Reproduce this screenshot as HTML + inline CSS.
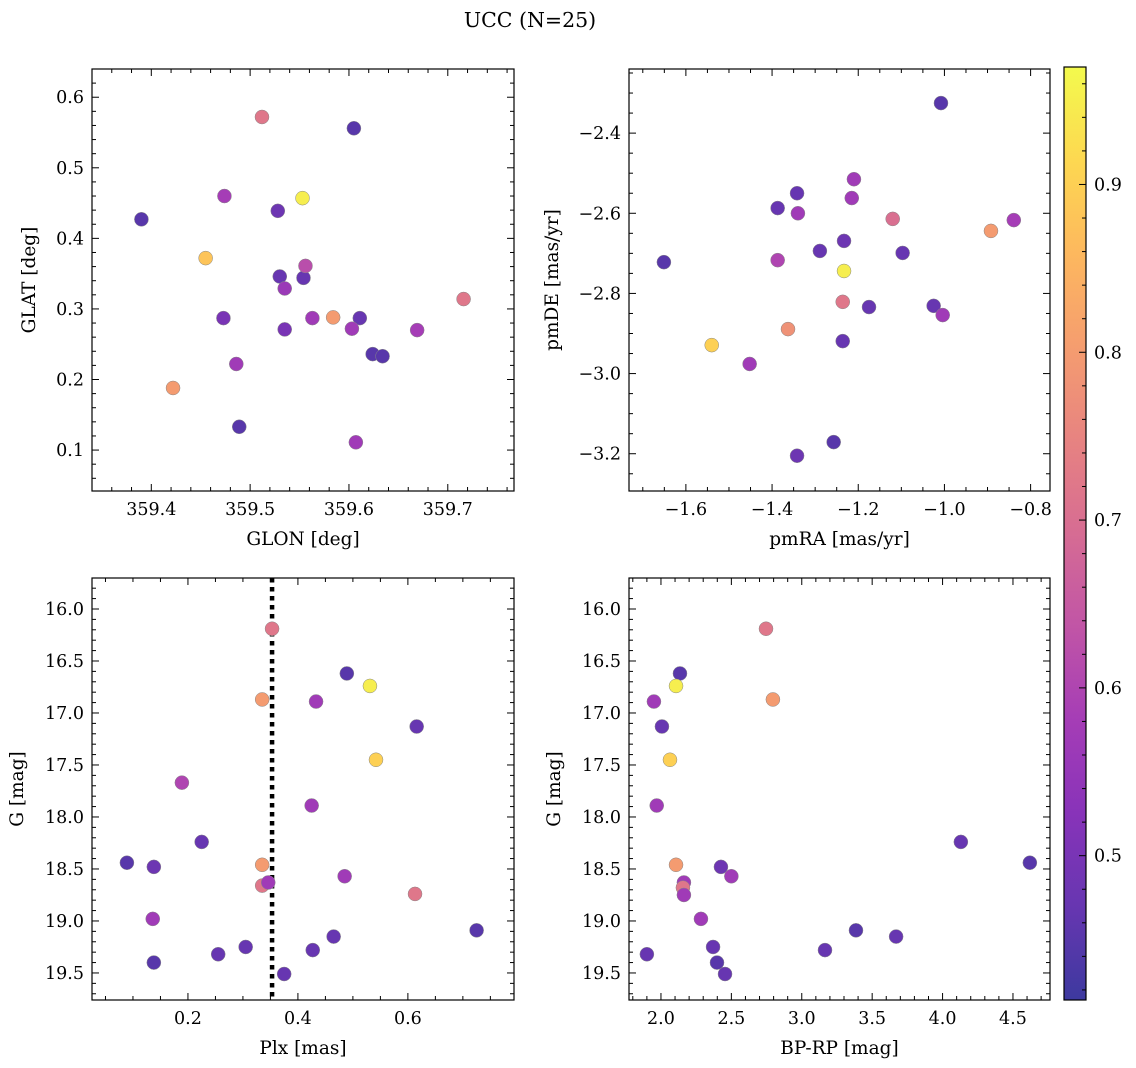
<!DOCTYPE html>
<html><head><meta charset="utf-8">
<style>
html,body{margin:0;padding:0;background:#fff;}
svg{display:block;font-family:"DejaVu Serif","Liberation Serif",serif;}
</style></head>
<body>
<svg id="fig" width="1136" height="1068" xmlns="http://www.w3.org/2000/svg">
<text x="530" y="27" font-size="20.5" text-anchor="middle">UCC (N=25)</text>
</svg>
<script>
// ---- data (per panel) ----
const glon = [359.512,359.605,359.390,359.474,359.528,359.553,359.455,359.530,359.554,359.556,359.535,359.473,359.535,359.563,359.584,359.611,359.603,359.669,359.716,359.624,359.634,359.486,359.422,359.489,359.607];
const glat = [0.572,0.556,0.427,0.460,0.439,0.457,0.372,0.346,0.344,0.361,0.329,0.287,0.271,0.287,0.288,0.287,0.272,0.270,0.314,0.236,0.233,0.222,0.188,0.133,0.111];
const probA = [0.72,0.45,0.45,0.58,0.48,0.95,0.88,0.47,0.47,0.62,0.56,0.50,0.50,0.57,0.80,0.47,0.57,0.58,0.72,0.45,0.45,0.57,0.80,0.45,0.57];

const pmra = [-1.008,-1.210,-1.342,-1.387,-1.340,-1.215,-1.120,-0.839,-0.892,-1.233,-1.289,-1.097,-1.651,-1.387,-1.233,-1.236,-1.175,-1.025,-1.004,-1.363,-1.236,-1.540,-1.452,-1.257,-1.342];
const pmde = [-2.325,-2.515,-2.550,-2.587,-2.600,-2.562,-2.614,-2.617,-2.644,-2.669,-2.694,-2.699,-2.722,-2.717,-2.744,-2.821,-2.834,-2.831,-2.854,-2.889,-2.919,-2.929,-2.976,-3.171,-3.205];
const probB = [0.45,0.57,0.47,0.47,0.57,0.57,0.70,0.58,0.80,0.48,0.47,0.47,0.45,0.60,0.95,0.72,0.47,0.47,0.57,0.78,0.47,0.90,0.57,0.45,0.48];

const plx = [0.353,0.489,0.531,0.335,0.433,0.616,0.542,0.189,0.425,0.225,0.089,0.138,0.335,0.485,0.335,0.346,0.613,0.136,0.725,0.465,0.305,0.427,0.255,0.138,0.375];
const gmagC = [16.19,16.62,16.74,16.87,16.89,17.13,17.45,17.67,17.89,18.24,18.44,18.48,18.46,18.57,18.66,18.63,18.74,18.98,19.09,19.15,19.25,19.28,19.32,19.40,19.51];
const probC = [0.72,0.45,0.95,0.80,0.57,0.47,0.90,0.60,0.57,0.47,0.45,0.48,0.80,0.57,0.72,0.57,0.72,0.57,0.45,0.47,0.47,0.47,0.47,0.45,0.47];
const plxLine = 0.353;

const bprp = [2.746,2.135,2.107,1.950,2.795,2.007,2.064,1.970,4.130,4.620,2.107,2.426,2.500,2.163,2.156,2.163,2.284,3.385,3.670,2.370,3.165,1.900,2.398,2.455];
const gmagD = [16.19,16.62,16.74,16.89,16.87,17.13,17.45,17.89,18.24,18.44,18.46,18.48,18.57,18.63,18.68,18.75,18.98,19.09,19.15,19.25,19.28,19.32,19.40,19.51];
const probD = [0.72,0.45,0.95,0.57,0.80,0.47,0.90,0.57,0.47,0.45,0.80,0.48,0.57,0.57,0.72,0.57,0.57,0.45,0.47,0.47,0.47,0.47,0.45,0.47];

const cbTicks = [0.5,0.6,0.7,0.8,0.9];
const cmin = 0.414, cmax = 0.970;

// ---- helpers ----
const svg = document.getElementById('fig');
const NS = 'http://www.w3.org/2000/svg';
const TF = 17.5, LF = 18.5;
function mk(tag, attrs, parent){ const e=document.createElementNS(NS,tag); for(const k in attrs) e.setAttribute(k,attrs[k]); (parent||svg).appendChild(e); return e; }
const plasmaStops2=[[0,[13,8,135]],[0.1,[65,4,157]],[0.2,[106,0,168]],[0.3,[143,13,164]],[0.4,[177,42,144]],[0.5,[204,71,120]],[0.6,[225,100,98]],[0.7,[242,132,75]],[0.8,[252,166,54]],[0.9,[252,206,37]],[1,[240,249,33]]];
const ALPHA=0.8;
function plasma(t){ t=Math.max(0,Math.min(1,t)); const s=plasmaStops2; let rgb=s[s.length-1][1];
  for(let i=1;i<s.length;i++){ if(t<=s[i][0]){ const a=s[i-1],b=s[i],f=(t-a[0])/(b[0]-a[0]); rgb=a[1].map((v,j)=>v+(b[1][j]-v)*f); break; } }
  return 'rgb('+rgb.map(v=>Math.round(v*ALPHA+255*(1-ALPHA))).join(',')+')'; }
function cmap(v){ return plasma((v-cmin)/(cmax-cmin)); }
function fmt(v,d){ const s=v.toFixed(d); return v<0 ? '\u2212'+s.slice(1) : s; }

function panel(name, L,T,R,B, xr, yr, xMaj, xMin, yMaj, yMin, xd, yd, xlab, ylab, ylabX, yinv){
  const g = mk('g',{});  
  const sx = v => L + (v-xr[0])/(xr[1]-xr[0])*(R-L);
  const sy = yinv ? (v => T + (v-yr[0])/(yr[1]-yr[0])*(B-T)) : (v => B - (v-yr[0])/(yr[1]-yr[0])*(B-T));
  mk('rect',{x:L,y:T,width:R-L,height:B-T,fill:'none',stroke:'#000','stroke-width':1.2,},g);
  const eps=1e-9;
  const xs=Math.ceil(xr[0]/xMin-eps);
  for(let k=xs;k*xMin<=xr[1]+eps;k++){
    const v=k*xMin, px=sx(v), major=Math.abs(v/xMaj-Math.round(v/xMaj))<1e-6, len=major?7:4;
    mk('line',{x1:px,y1:B,x2:px,y2:B-len,stroke:'#000','stroke-width':1},g);
    mk('line',{x1:px,y1:T,x2:px,y2:T+len,stroke:'#000','stroke-width':1},g);
    if(major){ const t=mk('text',{x:px,y:B+24,'font-size':TF,'text-anchor':'middle'},g); t.textContent=fmt(v,xd); }
  }
  const ys=Math.ceil(Math.min(yr[0],yr[1])/yMin-eps), ye=Math.max(yr[0],yr[1]);
  for(let k=ys;k*yMin<=ye+eps;k++){
    const v=k*yMin, py=sy(v), major=Math.abs(v/yMaj-Math.round(v/yMaj))<1e-6, len=major?7:4;
    mk('line',{x1:L,y1:py,x2:L+len,y2:py,stroke:'#000','stroke-width':1},g);
    mk('line',{x1:R,y1:py,x2:R-len,y2:py,stroke:'#000','stroke-width':1},g);
    if(major){ const t=mk('text',{x:L-8,y:py+6,'font-size':TF,'text-anchor':'end'},g); t.textContent=fmt(v,yd); }
  }
  const xl=mk('text',{x:(L+R)/2,y:B+54,'font-size':LF,'text-anchor':'middle'},g); xl.textContent=xlab;
   
  const yl=mk('text',{x:ylabX,y:(T+B)/2,'font-size':LF,'text-anchor':'middle',transform:'rotate(-90 '+ylabX+' '+(T+B)/2+')'},g); yl.textContent=ylab;
   
  return {g,sx,sy};
}
function scatter(p, xs, ys, cs, name){
  for(let i=0;i<xs.length;i++){
    const c=mk('circle',{cx:p.sx(xs[i]),cy:p.sy(ys[i]),r:7,fill:cmap(cs[i]),stroke:'#888','stroke-width':0.5},p.g);
    
    
  }
}

const p1 = panel('glon-glat-panel',92,69,514,491,[359.340,359.767],[0.042,0.640],0.1,0.02,0.1,0.02,1,1,'GLON [deg]','GLAT [deg]',35,false);
scatter(p1,glon,glat,probA,'glon-glat');
const p2 = panel('pm-panel',629,69,1050,491,[-1.732,-0.755],[-3.293,-2.240],0.2,0.05,0.2,0.05,1,1,'pmRA [mas/yr]','pmDE [mas/yr]',558,false);
scatter(p2,pmra,pmde,probB,'pm');
const p3 = panel('plx-g-panel',92,578,514,1000,[0.0255,0.793],[15.702,19.760],0.2,0.05,0.5,0.1,1,1,'Plx [mas]','G [mag]',23,true);
const ln=mk('line',{x1:p3.sx(plxLine),y1:578,x2:p3.sx(plxLine),y2:1000,stroke:'#000','stroke-width':4.5,'stroke-dasharray':'4.5,4.5'},p3.g);
 
scatter(p3,plx,gmagC,probC,'plx-g');
const p4 = panel('cmd-panel',629,578,1050,1000,[1.773,4.763],[15.702,19.760],0.5,0.1,0.5,0.1,1,1,'BP-RP [mag]','G [mag]',560,true);
scatter(p4,bprp,gmagD,probD,'cmd');

// colorbar
const cb = mk('g',{});  
const defs=mk('defs',{},cb);
const grad=mk('linearGradient',{id:'cbg',x1:0,y1:1,x2:0,y2:0},defs);
for(let i=0;i<=20;i++){ const t=i/20; mk('stop',{offset:t,'stop-color':plasma(t)},grad); }
const CT=67,CB=1000,CL=1064,CR=1086;
mk('rect',{x:CL,y:CT,width:CR-CL,height:CB-CT,fill:'url(#cbg)',stroke:'#000','stroke-width':1.2},cb);
const cy = v => CB - (v-cmin)/(cmax-cmin)*(CB-CT);
for(let k=Math.ceil(cmin/0.02-1e-9);k*0.02<=cmax;k++){
  const v=k*0.02, major=Math.abs(v*10-Math.round(v*10))<1e-6, len=major?7:4;
  mk('line',{x1:CR,y1:cy(v),x2:CR-len,y2:cy(v),stroke:'#000','stroke-width':1},cb);
}
cbTicks.forEach(v=>{ const t=mk('text',{x:CR+8,y:cy(v)+6,'font-size':TF},cb); t.textContent=v.toFixed(1);
    });
</script>
</body></html>
